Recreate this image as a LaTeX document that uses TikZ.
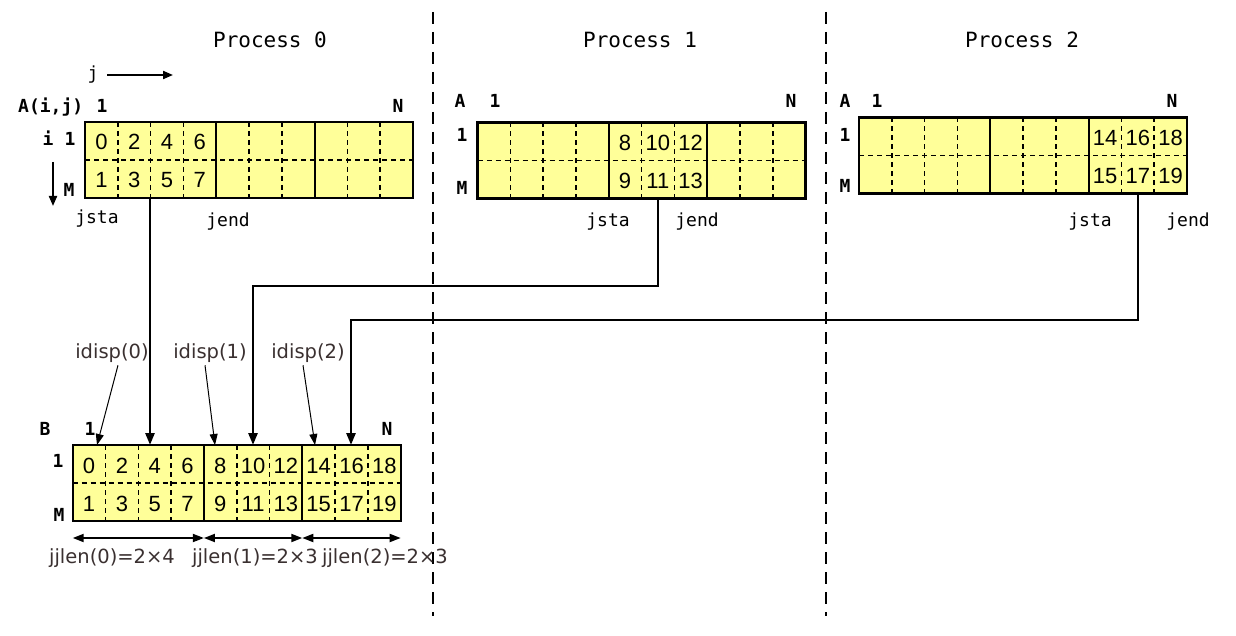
\documentclass[tikz,border=0pt]{standalone}
\usepackage{fontspec}
\usetikzlibrary{arrows.meta,calc}
\newfontfamily\labfont{DejaVu Sans Mono}
\newfontfamily\numfont{Liberation Sans}
\newfontfamily\gothfont{DejaVu Sans}
\definecolor{cellyellow}{HTML}{FFFF99}
\definecolor{annot}{HTML}{3A3030}
\newcommand\cellgrid[5]{% name, x0, y0, first col, last col
  \node[gridbox] (#1) at (#2,#3) {};
  \foreach \c in {#4,...,#5}{%
    \pgfmathtruncatemacro\tv{2*\c}%
    \pgfmathtruncatemacro\bv{2*\c+1}%
    \node[num] (#1-t\c) at ($(#1.north west)+({(\c+0.5)*32.8},28)$) {\tv};
    \node[num] (#1-b\c) at ($(#1.north west)+({(\c+0.5)*32.8},66)$) {\bv};
  }
  \draw[celldash] (#1.west) -- (#1.east);
  \foreach \k in {1,2,3,5,6,8,9}
    \draw[celldash] ($(#1.north west)+(\k*32.8,0)$) -- ($(#1.south west)+(\k*32.8,0)$);
  \foreach \k in {4,7}
    \draw[blockline] ($(#1.north west)+(\k*32.8,0)$) -- ($(#1.south west)+(\k*32.8,0)$);
  \node[gridframe] at (#2,#3) {};
}
\begin{document}
\begin{tikzpicture}[x=1pt,y=-1pt,
  gridbox/.style={fill=cellyellow,minimum width=328pt,minimum height=76pt,anchor=north west,inner sep=0pt,outer sep=0pt},
  gridframe/.style={draw=black,line width=2.2pt,minimum width=328pt,minimum height=76pt,anchor=north west,inner sep=0pt,outer sep=0pt},
  celldash/.style={line width=1.6pt,dash pattern=on 5pt off 4pt},
  blockline/.style={line width=2.2pt},
  num/.style={font=\numfont\fontsize{22}{22}\selectfont,anchor=base,inner sep=0pt},
  lab/.style={font=\labfont\fontsize{18}{18}\selectfont,anchor=base,inner sep=0pt},
  blab/.style={font=\labfont\bfseries\fontsize{18}{18}\selectfont,anchor=base,inner sep=0pt},
  title/.style={font=\labfont\fontsize{21}{22}\selectfont,anchor=base,inner sep=0pt},
  annot/.style={font=\gothfont\fontsize{19.5}{20}\selectfont,text=annot,anchor=base,inner sep=0pt},
  sep/.style={line width=2.6pt,dash pattern=on 12pt off 8pt},
  flow/.style={line width=2.6pt,-{Triangle[length=12pt,width=9pt]}},
  ptr/.style={line width=1pt,-{Triangle[length=11pt,width=8pt]}},
  span/.style={line width=1.8pt,{Triangle[length=11pt,width=8pt]}-{Triangle[length=11pt,width=8pt]}},
  dirarrow/.style={line width=2pt,-{Triangle[length=10pt,width=8pt]}}
]
\useasboundingbox (0,0) rectangle (1236,636);

% separators
\coordinate (sepa1) at (433,12);
\coordinate (sepa2) at (433,616);
\coordinate (sepb1) at (826,12);
\coordinate (sepb2) at (826,616);
\draw[sep] (sepa1) -- (sepa2);
\draw[sep] (sepb1) -- (sepb2);

% titles
\node[title] (t0) at (270,48) {Process 0};
\node[title] (t1) at (640,48) {Process 1};
\node[title] (t2) at (1022,48) {Process 2};

% grids
\cellgrid{A0}{85}{122}{0}{3}
\cellgrid{A1}{477.5}{122.5}{4}{6}
\cellgrid{A2}{859}{117.5}{7}{9}
\cellgrid{B}{72.7}{445}{0}{9}

% labels process 0
\node[lab] (jlab) at (93,80) {j};
\coordinate (ja) at (107,75);
\coordinate (jb) at (173,75);
\draw[dirarrow] (ja) -- (jb);
\node[blab,anchor=base west] (Aij) at (18,113) {A(i,j)};
\node[blab] (A0one) at (102,113) {1};
\node[blab] (A0N) at (398,113) {N};
\node[blab] (A0i) at (48,146) {i};
\node[blab] (A0r1) at (70,146) {1};
\coordinate (ia) at (53,162);
\coordinate (ib) at (53,206);
\draw[dirarrow] (ia) -- (ib);
\node[blab] (A0M) at (69,197) {M};
\node[lab] (A0sta) at (97,224) {jsta};
\node[lab] (A0end) at (228,227) {jend};

% labels process 1
\node[blab] (A1A) at (460,108) {A};
\node[blab] (A1one) at (495,108) {1};
\node[blab] (A1N) at (791,108) {N};
\node[blab] (A1r1) at (462,142) {1};
\node[blab] (A1M) at (462,195) {M};
\node[lab] (A1sta) at (608,227) {jsta};
\node[lab] (A1end) at (697,227) {jend};

% labels process 2
\node[blab] (A2A) at (845,108) {A};
\node[blab] (A2one) at (877,108) {1};
\node[blab] (A2N) at (1172,108) {N};
\node[blab] (A2r1) at (845,142) {1};
\node[blab] (A2M) at (845,193) {M};
\node[lab] (A2sta) at (1090,227) {jsta};
\node[lab] (A2end) at (1188,227) {jend};

% labels B
\node[blab] (BB) at (45,435) {B};
\node[blab] (Bone) at (90,435) {1};
\node[blab] (BN) at (387,435) {N};
\node[blab] (Br1) at (58,467) {1};
\node[blab] (BM) at (59,521) {M};

% flows
\coordinate (x0) at (150,0);
\coordinate (x1) at (658,0);
\coordinate (x2) at (1138,0);
\coordinate (bend1) at (253,286);
\coordinate (bend2) at (351,320);
\draw[flow] (A0.south -| x0) -- (B.north -| x0);
\draw[flow] (A1.south -| x1) |- (bend1) -- (B.north -| bend1);
\draw[flow] (A2.south -| x2) |- (bend2) -- (B.north -| bend2);

% idisp
\node[annot] (id0) at (112,358) {idisp(0)};
\node[annot] (id1) at (210,358) {idisp(1)};
\node[annot] (id2) at (308,358) {idisp(2)};
\coordinate (p0) at (97,0);
\coordinate (p1) at (215,0);
\coordinate (p2) at (315,0);
\draw[ptr] ([shift={(6,3)}]id0.south) -- (B.north -| p0);
\draw[ptr] ([shift={(-5,3)}]id1.south) -- (B.north -| p1);
\draw[ptr] ([shift={(-5,3)}]id2.south) -- (B.north -| p2);

% jjlen spans
\coordinate (s0) at (72.7,538);
\coordinate (s1) at (203.9,538);
\coordinate (s2) at (302.3,538);
\coordinate (s3) at (400.7,538);
\draw[span] (s0) -- (s1);
\draw[span] (s1) -- (s2);
\draw[span] (s2) -- (s3);
\node[annot] (jj0) at (112,563) {jjlen(0)=2×4};
\node[annot] (jj1) at (255,563) {jjlen(1)=2×3};
\node[annot] (jj2) at (385,563) {jjlen(2)=2×3};
\end{tikzpicture}
\end{document}
